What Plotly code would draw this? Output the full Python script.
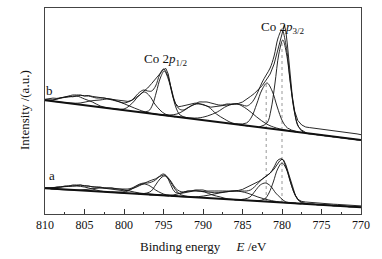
import plotly.graph_objects as go

# ---------------- data ----------------
raw_b_E = [810.0,809.5,809.0,808.5,808.0,807.5,807.0,806.5,806.0,805.5,
           805.0,804.5,804.0,803.5,803.0,802.5,802.0,801.5,801.0,800.5,
           800.0,799.5,799.0,798.5,798.0,797.5,797.0,796.5,796.0,795.5,
           795.0,794.7,794.4,794.1,793.8,793.5,793.1,792.7,792.2,791.6,
           791.0,790.5,790.0,789.5,789.0,788.5,788.0,787.5,787.0,786.5,
           786.0,785.5,785.0,784.5,784.0,783.5,783.0,782.5,782.0,781.5,
           781.0,780.6,780.3,780.0,779.8,779.7,779.5,779.3,779.0,778.7,
           778.4,778.0,777.5,777.0,776.5,776.0,775.5,775.0,774.5,774.0,
           773.5,773.0,772.5,772.0,771.5,771.0,770.5,770.0]
raw_b_I = [114.7,115.2,115.9,115.6,116.4,116.9,117.6,117.2,118.1,118.6,
           118.2,118.5,117.6,116.9,116.4,115.6,115.2,114.6,114.1,113.6,
           112.8,112.6,113.6,116.0,119.0,122.8,126.0,130.5,135.0,139.5,
           144.5,145.5,140.0,128.0,117.0,110.5,107.3,107.8,108.6,110.0,
           110.9,110.3,109.4,108.0,106.8,107.3,108.0,108.6,109.4,110.0,
           110.3,110.6,112.0,114.5,117.5,120.5,124.0,128.5,134.0,140.0,
           150.0,163.0,172.0,180.0,186.0,189.0,182.0,168.0,140.0,118.0,
           103.0,93.5,89.0,87.0,86.4,85.9,85.5,85.0,84.6,84.0,
           83.2,82.6,82.2,81.5,81.0,80.4,80.1,79.3]

raw_a_E = [810.0,809.5,809.0,808.5,808.0,807.5,807.0,806.5,806.0,805.5,
           805.0,804.5,804.0,803.5,803.0,802.5,802.0,801.5,801.0,800.5,
           800.0,799.5,799.0,798.5,798.0,797.5,797.0,796.5,796.0,795.5,
           795.0,794.7,794.4,794.1,793.8,793.5,793.0,792.5,792.0,791.5,
           791.0,790.5,790.0,789.5,789.0,788.5,788.0,787.5,787.0,786.5,
           786.0,785.5,785.0,784.5,784.0,783.5,783.0,782.5,782.0,781.5,
           781.0,780.6,780.3,780.0,779.8,779.5,779.2,778.9,778.6,778.3,
           778.0,777.5,777.0,776.5,776.0,775.5,775.0,774.5,774.0,773.5,
           773.0,772.5,772.0,771.5,771.0,770.5,770.0]
raw_a_I = [25.9,26.3,26.1,26.6,26.9,27.2,27.6,27.8,28.2,28.9,
           28.4,27.9,27.4,26.6,26.0,25.3,24.8,24.4,23.9,23.4,
           23.2,23.8,25.0,26.6,28.5,30.6,32.3,33.8,35.2,37.4,
           39.0,38.6,35.0,29.5,24.5,21.5,20.6,21.0,21.8,22.6,
           23.3,23.0,22.4,22.0,21.5,21.2,21.4,21.7,22.2,22.8,
           23.2,23.6,24.6,26.4,28.4,30.6,32.4,34.8,37.6,40.8,
           45.0,49.5,53.0,54.8,54.0,49.0,41.5,33.0,25.0,18.5,
           14.6,12.6,12.0,11.6,11.2,10.9,10.6,10.3,10.0,9.8,
           9.6,9.3,9.1,8.8,8.6,8.3,8.1]

fit_E = [810.0,809.5,809.0,808.5,808.0,807.5,807.0,806.5,806.0,805.5,
         805.0,804.5,804.0,803.5,803.0,802.5,802.0,801.5,801.0,800.5,
         800.0,799.5,799.0,798.5,798.0,797.5,797.0,796.5,796.0,795.5,
         795.0,794.5,794.0,793.5,793.0,792.5,792.0,791.5,791.0,790.5,
         790.0,789.5,789.0,788.5,788.0,787.5,787.0,786.5,786.0,785.5,
         785.0,784.5,784.0,783.5,783.0,782.5,782.0,781.5,781.0,780.5,
         780.0,779.5,779.0,778.5,778.0,777.5,777.0,776.5,776.0,775.5,
         775.0,774.5,774.0,773.5,773.0,772.5,772.0,771.5,771.0,770.5,
         770.0]
fit_b_I = [114,114,114,115,116,117,118,119,119,119,118,118,117,116,116,116,115,114,113,112,
           111,112,114,118,122,124,123,123,128,139,145,139,125,111,105,104,106,108,110,112,
           112,112,111,110,109,109,110,110,110,110,109,108,110,115,123,132,139,146,158,176,
           184,169,136,106,89,83,81,80,80,79,79,78,78,77,77,76,76,75,75,74,74]
fit_a_I = [26,26,26,27,27,28,28,29,29,29,28,28,27,27,27,26,26,26,25,25,
           25,25,26,28,30,31,31,32,34,38,40,37,32,26,23,22,23,23,24,24,
           24,23,23,23,23,23,23,23,23,23,23,23,24,27,31,35,38,41,47,54,
           55,47,34,22,15,11,10,10,10,9,9,9,9,8,8,8,8,7,7,7,7]

base_E = [810.0, 770.0]
base_b_I = [113.7, 74.0]
base_a_I = [25.7, 6.7]

# fitted component peaks (spectrum b)
comp_b_E = [
    [800,802,803,804,805,806,807,808,809,810],
    [794.3,796.8,798.05,799.3,800.55,801.8,803.05,804.3,805.55,806.8,809.3],
    [793.5,794.8,795.45,796.1,796.75,797.4,798.05,798.7,799.35,800.0,801.3],
    [791.9,792.9,793.4,793.9,794.4,794.9,795.4,795.9,796.4,796.9,797.9],
    [784.3,786.3,787.3,788.3,789.3,790.3,791.3,792.3,793.3,794.3,796.3],
    [778.2,780.7,781.95,783.2,784.45,785.7,786.95,788.2,789.45,790.7,793.2],
    [778.0,779.3,779.95,780.6,781.25,781.9,782.55,783.2,783.85,784.5,785.8],
    [776.9,777.9,778.4,778.9,779.4,779.9,780.4,780.9,781.4,781.9,782.9]]
comp_b_I = [
    [104,106,108,112,115,118,117,116,114,114],
    [98,101,104,108,112,115,114,113,111,111,113],
    [97,100,104,110,118,122,119,113,108,105,105],
    [96,99,106,120,135,143,136,122,109,103,102],
    [88,91,95,100,107,110,109,104,100,99,100],
    [82,86,90,97,105,110,108,102,98,96,97],
    [82,86,93,107,123,131,124,110,97,91,90],
    [81,87,101,128,159,174,160,130,104,91,87]]

# fitted component peaks (spectrum a)
comp_a_E = [
    [800,802,803,804,805,806,807,808,809,810],
    [794.3,796.8,798.05,799.3,800.55,801.8,803.05,804.3,805.55,806.8,809.3],
    [793.2,794.6,795.3,796.0,796.7,797.4,798.1,798.8,799.5,800.2,801.6],
    [791.6,792.7,793.25,793.8,794.35,794.9,795.45,796.0,796.55,797.1,798.2],
    [784.8,786.8,787.8,788.8,789.8,790.8,791.8,792.8,793.8,794.8,796.8],
    [777.55,780.3,781.675,783.05,784.425,785.8,787.175,788.55,789.925,791.3,794.05],
    [778.2,779.5,780.15,780.8,781.45,782.1,782.75,783.4,784.05,784.7,786.0],
    [776.7,777.8,778.35,778.9,779.45,780.0,780.55,781.1,781.65,782.2,783.3]]
comp_a_I = [
    [21,22,23,25,27,28,28,27,26,26],
    [18,20,21,23,25,26,26,25,24,24,25],
    [18,19,21,24,28,30,29,26,23,22,22],
    [17,19,22,28,35,38,35,29,23,21,20],
    [14,15,17,19,22,23,23,21,19,19,19],
    [10,12,14,17,21,23,22,20,18,17,18],
    [11,12,16,21,28,31,29,23,17,15,14],
    [10,13,19,31,45,51,45,32,21,15,13]]

# dotted reference lines (peak positions)
ref_E = [782.0, 780.0]
ref_top = [131, 174]
ref_bottom = [13, 12]

x_ticks = [810, 805, 800, 795, 790, 785, 780, 775, 770]

# ---------------- figure ----------------
FONT = "Liberation Serif, Times New Roman, serif"
BLACK = "#111111"
fig = go.Figure()

for e, top, bot in zip(ref_E, ref_top, ref_bottom):
    fig.add_trace(go.Scatter(x=[e, e], y=[bot, top], mode="lines",
                             line=dict(color="#999999", width=1, dash="dot"),
                             hoverinfo="skip"))

for base_I in (base_b_I, base_a_I):
    fig.add_trace(go.Scatter(x=base_E, y=base_I, mode="lines",
                             line=dict(color=BLACK, width=2)))

for Es, Is in list(zip(comp_b_E, comp_b_I)) + list(zip(comp_a_E, comp_a_I)):
    fig.add_trace(go.Scatter(x=Es, y=Is, mode="lines",
                             line=dict(color=BLACK, width=0.9, shape="spline")))

for fit_I in (fit_b_I, fit_a_I):
    fig.add_trace(go.Scatter(x=fit_E, y=fit_I, mode="lines",
                             line=dict(color=BLACK, width=0.9, shape="spline")))

for Es, Is in ((raw_b_E, raw_b_I), (raw_a_E, raw_a_I)):
    fig.add_trace(go.Scatter(x=Es, y=Is, mode="lines",
                             line=dict(color=BLACK, width=0.9)))

fig.update_layout(
    width=382, height=259,
    margin=dict(l=45, r=21, t=8, b=45),
    paper_bgcolor="white", plot_bgcolor="white",
    showlegend=False,
    font=dict(family=FONT, size=12, color=BLACK),
)
fig.update_xaxes(
    range=[810, 770], tickmode="array", tickvals=x_ticks,
    ticktext=[str(t) for t in x_ticks],
    ticks="inside", ticklen=5, tickwidth=1, tickcolor="#333333",
    minor=dict(ticks="inside", ticklen=2.5, dtick=2.5, tick0=770, tickcolor="#333333", showgrid=False),
    showline=True, linecolor="#444444", linewidth=1, mirror=True,
    showgrid=False, zeroline=False,
    tickfont=dict(family=FONT, size=12, color=BLACK),
)
fig.update_yaxes(
    range=[0, 206], showticklabels=False, ticks="",
    showline=True, linecolor="#444444", linewidth=1, mirror=True,
    showgrid=False, zeroline=False,
)

ann = [
    dict(x=0.5, y=-0.16, xref="paper", yref="paper",
         text="Binding energy\u2003 <i>E</i> /eV", font=dict(size=13)),
    dict(x=-0.063, y=0.505, xref="paper", yref="paper", textangle=-90,
         text="Intensity /(a.u.)", font=dict(size=13)),
    dict(x=809.4, y=124, xref="x", yref="y", text="b", font=dict(size=13)),
    dict(x=809.15, y=39, xref="x", yref="y", text="a", font=dict(size=13)),
    dict(x=794.8, y=155, xref="x", yref="y",
         text="Co 2<i>p</i><sub>1/2</sub>", font=dict(size=13)),
    dict(x=780.0, y=187, xref="x", yref="y",
         text="Co 2<i>p</i><sub>3/2</sub>", font=dict(size=13)),
]
for a in ann:
    a.update(showarrow=False, xanchor="center", yanchor="middle")
    a["font"] = dict(family=FONT, color=BLACK, size=a["font"]["size"])
fig.update_layout(annotations=ann)

fig.write_html("out.html",
               config={"displayModeBar": False, "staticPlot": True},
               post_script="document.body.style.margin='0';document.body.style.padding='0';document.body.style.overflow='hidden';")
